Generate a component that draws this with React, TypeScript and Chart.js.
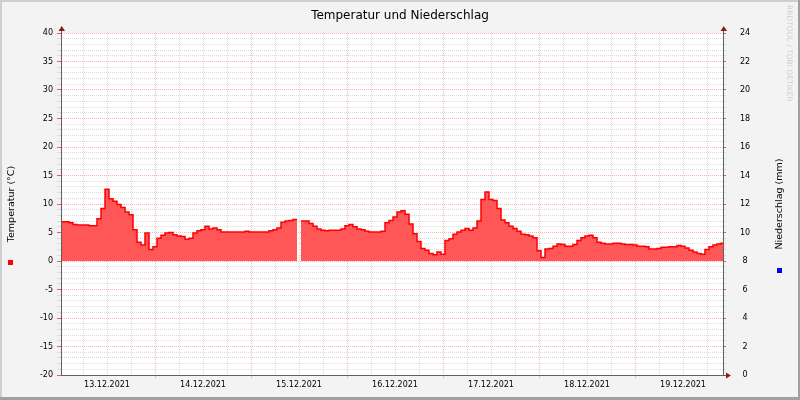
import React, { useEffect, useRef } from 'react';
import { Chart, registerables } from 'chart.js';

Chart.register(...registerables);

// ---------- data ----------
const chartTitle = 'Temperatur und Niederschlag';
const tempAxisTitle = 'Temperatur (°C)';
const precipAxisTitle = 'Niederschlag (mm)';
const watermark = 'RRDTOOL / TOBI OETIKER';

// x values are hours after 13.12.2021 00:00
const dateLabels = ['13.12.2021', '14.12.2021', '15.12.2021', '16.12.2021', '17.12.2021', '18.12.2021', '19.12.2021'];
const xMin = 0.5;
const xMax = 166;

// hourly temperature (°C), index = hour after 13.12.2021 00:00 ; null = missing
const temperature: (number | null)[] = [
  6.9, 6.9, 6.9, 6.7, 6.4, 6.3, 6.3, 6.3, 6.2, 6.2,
  7.4, 9.2, 12.6, 10.9, 10.5, 9.9, 9.4, 8.6, 8.1, 5.5,
  3.3, 2.8, 4.9, 2.0, 2.5, 4.0, 4.5, 4.9, 5.0, 4.6,
  4.4, 4.3, 3.8, 4.0, 4.9, 5.3, 5.5, 6.1, 5.6, 5.8,
  5.5, 5.1, 5.1, 5.1, 5.1, 5.1, 5.1, 5.2, 5.1, 5.1,
  5.1, 5.1, 5.1, 5.3, 5.5, 5.8, 6.8, 7.0, 7.1, 7.3,
  null, 7.0, 7.0, 6.6, 6.1, 5.6, 5.4, 5.3, 5.4, 5.4,
  5.4, 5.6, 6.2, 6.4, 6.0, 5.6, 5.5, 5.2, 5.1, 5.1,
  5.1, 5.2, 6.7, 7.1, 7.7, 8.6, 8.8, 8.2, 6.5, 4.8,
  3.4, 2.2, 1.9, 1.3, 1.1, 1.6, 1.2, 3.6, 3.9, 4.7,
  5.1, 5.4, 5.7, 5.4, 5.8, 7.0, 10.8, 12.1, 10.8, 10.6,
  9.2, 7.2, 6.7, 6.1, 5.7, 5.2, 4.7, 4.6, 4.4, 4.1,
  1.8, 0.6, 2.1, 2.2, 2.6, 3.0, 2.9, 2.6, 2.6, 2.9,
  3.6, 4.1, 4.4, 4.5, 4.1, 3.3, 3.1, 3.0, 3.0, 3.1,
  3.1, 3.0, 2.9, 2.9, 2.8, 2.6, 2.6, 2.5, 2.1, 2.1,
  2.2, 2.4, 2.4, 2.5, 2.5, 2.7, 2.6, 2.3, 1.9, 1.6,
  1.3, 1.2, 2.0, 2.5, 2.8, 3.0, 3.1,
];

// daily precipitation (mm), at noon of each day
const precipHours = [12, 36, 60, 84, 108, 132, 156];
const precipitation = [0, 0, 0, 0, 0, 0, 0];

const tempTickLabels = [-20, -15, -10, -5, 0, 5, 10, 15, 20, 25, 30, 35, 40];
const precipTickLabels = [0, 2, 4, 6, 8, 10, 12, 14, 16, 18, 20, 22, 24];

// ---------- styles ----------
const FONT = "'DejaVu Sans', sans-serif";
const MINOR = '#dcdcdc';
const MAJOR = '#f4b4b4';
const AXIS = '#606060';
const ARROW = '#8e1c1c';

const tempMin = tempTickLabels[0];
const tempMax = tempTickLabels[tempTickLabels.length - 1];
const precMin = precipTickLabels[0];
const precMax = precipTickLabels[precipTickLabels.length - 1];

function buildTempPoints() {
  const pts: { x: number; y: number | null }[] = [];
  temperature.forEach((v, i) => {
    if (v === null) {
      pts.push({ x: i, y: null });
    } else {
      pts.push({ x: i - 0.5, y: v });
      pts.push({ x: i + 0.5, y: v });
    }
  });
  return pts;
}

const decor = {
  id: 'decor',
  beforeDraw(chart: any) {
    const { ctx, width, height, chartArea: a } = chart;
    ctx.save();
    ctx.fillStyle = '#f3f3f3';
    ctx.fillRect(0, 0, width, height);
    ctx.fillStyle = '#cfcfcf';
    ctx.fillRect(0, 0, width, 2);
    ctx.fillRect(0, 0, 2, height);
    ctx.fillStyle = '#a0a0a0';
    ctx.fillRect(0, height - 3, width, 3);
    ctx.fillRect(width - 2, 0, 2, height);
    ctx.fillStyle = '#ffffff';
    ctx.fillRect(a.left, a.top, a.right - a.left, a.bottom - a.top);
    ctx.restore();
  },
  afterDraw(chart: any) {
    const { ctx, width, chartArea: a } = chart;
    ctx.save();
    // axis extensions and arrows
    ctx.strokeStyle = AXIS;
    ctx.lineWidth = 1;
    ctx.beginPath();
    ctx.moveTo(a.left + 0.5, a.top);
    ctx.lineTo(a.left + 0.5, a.top - 3);
    ctx.moveTo(a.right + 0.5, a.top);
    ctx.lineTo(a.right + 0.5, a.top - 3);
    ctx.moveTo(a.right, a.bottom + 0.5);
    ctx.lineTo(a.right + 4, a.bottom + 0.5);
    ctx.stroke();
    ctx.fillStyle = ARROW;
    const up = (x: number) => {
      ctx.beginPath();
      ctx.moveTo(x - 3, a.top - 2);
      ctx.lineTo(x + 3.5, a.top - 2);
      ctx.lineTo(x + 0.25, a.top - 7);
      ctx.closePath();
      ctx.fill();
    };
    up(a.left + 0.5);
    up(a.right + 0.5);
    ctx.beginPath();
    ctx.moveTo(a.right + 3, a.bottom - 2.5);
    ctx.lineTo(a.right + 3, a.bottom + 3.5);
    ctx.lineTo(a.right + 8, a.bottom + 0.5);
    ctx.closePath();
    ctx.fill();

    // title
    ctx.fillStyle = '#000';
    ctx.font = `12px ${FONT}`;
    ctx.textAlign = 'center';
    ctx.textBaseline = 'middle';
    ctx.fillText(chartTitle, width / 2, 16);

    // axis titles (rotated)
    const midY = (a.top + a.bottom) / 2;
    ctx.font = `9.5px ${FONT}`;
    ctx.save();
    ctx.translate(12, midY);
    ctx.rotate(-Math.PI / 2);
    ctx.fillText(tempAxisTitle, 0, 0);
    ctx.restore();
    ctx.save();
    ctx.translate(780, midY);
    ctx.rotate(-Math.PI / 2);
    ctx.fillText(precipAxisTitle, 0, 0);
    ctx.restore();

    // legend squares
    ctx.fillStyle = '#ff0000';
    ctx.fillRect(8, 260, 5, 5);
    ctx.fillStyle = '#0000ff';
    ctx.fillRect(777, 268, 5, 5);

    // watermark
    ctx.save();
    ctx.translate(789, 5);
    ctx.rotate(Math.PI / 2);
    ctx.fillStyle = '#cfcfcf';
    ctx.font = `7.5px ${FONT}`;
    ctx.textAlign = 'left';
    ctx.textBaseline = 'middle';
    ctx.fillText(watermark, 0, 0);
    ctx.restore();
    ctx.restore();
  },
};

const isTempMajor = (v: number) => tempTickLabels.includes(v);
const isDayMajor = (v: number) => Math.abs(v % 24) < 1e-6;

export default function App() {
  const ref = useRef<HTMLCanvasElement | null>(null);

  useEffect(() => {
    document.body.style.margin = '0';
    const canvas = ref.current;
    if (!canvas) return;

    const chart = new Chart(canvas, {
      type: 'line',
      data: {
        datasets: [
          {
            type: 'line',
            label: 'Temperatur',
            data: buildTempPoints() as any,
            parsing: false,
            borderColor: '#ff0000',
            backgroundColor: '#ff5757',
            borderWidth: 1.5,
            pointRadius: 0,
            fill: 'origin',
            spanGaps: false,
            tension: 0,
            xAxisID: 'x',
            yAxisID: 'y',
          } as any,
          {
            type: 'bar',
            label: 'Niederschlag',
            data: precipHours.map((h, i) => ({ x: h, y: precipitation[i] })) as any,
            backgroundColor: '#0000ff',
            borderWidth: 0,
            xAxisID: 'x',
            yAxisID: 'y1',
          } as any,
        ],
      },
      options: {
        responsive: false,
        animation: false,
        devicePixelRatio: 1,
        layout: { padding: { top: 33, left: 0, right: 0, bottom: 0 } },
        plugins: {
          legend: { display: false },
          title: { display: false },
          tooltip: { enabled: false },
        },
        scales: {
          x: {
            type: 'linear',
            position: 'bottom',
            offset: false,
            min: xMin,
            max: xMax,
            afterFit: (s: any) => {
              s.height = 25;
            },
            afterBuildTicks: (s: any) => {
              const t = [];
              for (let h = 6; h < xMax; h += 6) t.push({ value: h });
              s.ticks = t;
            },
            ticks: {
              autoSkip: false,
              maxRotation: 0,
              padding: 2,
              color: '#000',
              font: { family: FONT, size: 8 },
              callback: (v: any) => {
                const n = Number(v);
                if (Math.abs((n - 12) % 24) < 1e-6) return dateLabels[Math.round((n - 12) / 24)] ?? '';
                return '';
              },
            },
            grid: {
              offset: false,
              color: (c: any) => (c.tick && isDayMajor(c.tick.value) ? MAJOR : MINOR),
              tickColor: (c: any) => (c.tick && isDayMajor(c.tick.value) ? MAJOR : 'rgba(0,0,0,0)'),
              tickLength: 3,
              lineWidth: 1,
            },
            border: { display: true, color: AXIS, width: 1, dash: [1, 1], z: 1 },
          } as any,
          y: {
            type: 'linear',
            position: 'left',
            min: tempMin,
            max: tempMax,
            afterFit: (s: any) => {
              s.width = 61;
            },
            afterBuildTicks: (s: any) => {
              const t = [];
              for (let v = tempMin; v <= tempMax; v += 1) t.push({ value: v });
              s.ticks = t;
            },
            ticks: {
              autoSkip: false,
              padding: 4,
              color: '#000',
              font: { family: FONT, size: 8 },
              callback: (v: any) => (isTempMajor(Number(v)) ? String(v) : ''),
            },
            grid: {
              color: (c: any) => (c.tick && isTempMajor(c.tick.value) ? MAJOR : MINOR),
              tickColor: (c: any) => (c.tick && isTempMajor(c.tick.value) ? '#e06060' : MINOR),
              tickLength: 4,
              lineWidth: 1,
            },
            border: { display: true, color: AXIS, width: 1, dash: [1, 1], z: 1 },
          } as any,
          y1: {
            type: 'linear',
            position: 'right',
            min: precMin,
            max: precMax,
            afterFit: (s: any) => {
              s.width = 77;
            },
            afterBuildTicks: (s: any) => {
              const t = [];
              const n = Math.round((precMax - precMin) / 0.4);
              for (let i = 0; i <= n; i++) t.push({ value: Math.round((precMin + i * 0.4) * 1000) / 1000 });
              s.ticks = t;
            },
            ticks: {
              autoSkip: false,
              padding: 14,
              crossAlign: 'center',
              color: '#000',
              font: { family: FONT, size: 8 },
              callback: (v: any) => (precipTickLabels.includes(Number(v)) ? String(v) : ''),
            },
            grid: {
              drawOnChartArea: false,
              tickColor: (c: any) => (c.tick && precipTickLabels.includes(c.tick.value) ? '#e06060' : MINOR),
              tickLength: 3,
            },
            border: { display: true, color: AXIS, width: 1, z: 1 },
          } as any,
        },
      },
      plugins: [decor],
    });

    return () => chart.destroy();
  }, []);

  return (
    <div style={{ position: 'fixed', left: 0, top: 0, width: 800, height: 400 }}>
      <canvas ref={ref} width={800} height={400} style={{ display: 'block', width: 800, height: 400 }} />
    </div>
  );
}
